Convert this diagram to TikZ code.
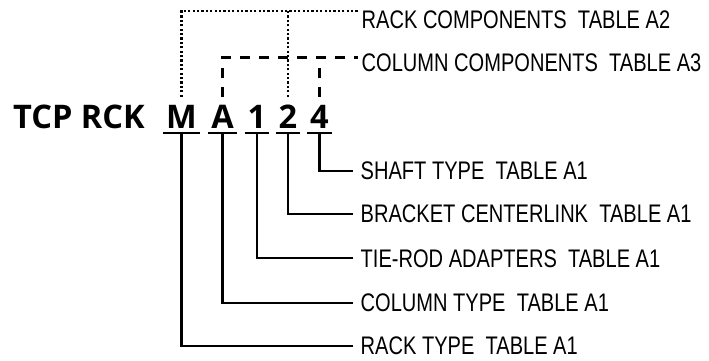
\documentclass[tikz,border=0pt]{standalone}
\usepackage{fontspec}
\newfontfamily\titlefont{Open Sans}
\newfontfamily\labfont{Liberation Sans}[FakeStretch=0.79]
\begin{document}
\begin{tikzpicture}[x=1pt,y=-1pt,
  titletext/.style={font=\titlefont\bfseries\fontsize{32.5}{36}\selectfont, inner sep=0pt},
  letter/.style={titletext, inner xsep=3pt, inner ysep=0pt, text height=31pt, text depth=5pt, anchor=base},
  labfontsize/.style={font=\labfont\fontsize{25.4}{30}\selectfont},
  lab/.style={labfontsize, inner xsep=7.5pt, inner ysep=0pt, anchor=west},
  toplab/.style={labfontsize, inner xsep=3.5pt, inner ysep=0pt, anchor=north west},
  solidline/.style={line width=2.2pt},
  dotline/.style={line width=2.5pt, dash pattern=on 2.3pt off 2.1pt},
  dashline/.style={line width=2.2pt, dash pattern=on 10pt off 9pt}]
\useasboundingbox (0,0) rectangle (709,360);

% title
\node[titletext, anchor=base west] (tcp) at (13,128) {TCP RCK};
\node[letter] (m) at (181.5,128) {M};
\node[letter] (a) at (222.5,128) {A};
\node[letter] (one) at (257,128) {1};
\node[letter] (two) at (288,128) {2};
\node[letter] (four) at (319.5,128) {4};

% underlines
\foreach \n in {m,a,one,two,four}
  \draw[solidline] (\n.south west) -- (\n.south east);

% lower labels
\node[lab] (shaft) at (353,170.7) {SHAFT TYPE\ \ TABLE A1};
\node[lab] (bracket) at (353,214) {BRACKET CENTERLINK\ \ TABLE A1};
\node[lab] (tierod) at (353,258.3) {TIE-ROD ADAPTERS\ \ TABLE A1};
\node[lab] (coltype) at (353,302.7) {COLUMN TYPE\ \ TABLE A1};
\node[lab] (racktype) at (353,346) {RACK TYPE\ \ TABLE A1};

\draw[solidline] (four.south) |- (shaft.west);
\draw[solidline] (two.south) |- (bracket.west);
\draw[solidline] (one.south) |- (tierod.west);
\draw[solidline] (a.south) |- (coltype.west);
\draw[solidline] (m.south) |- (racktype.west);

% upper labels
\node[toplab] (rackcomp) at (358,11) {RACK COMPONENTS\ \ TABLE A2};
\node[toplab] (colcomp) at (358,54) {COLUMN COMPONENTS\ \ TABLE A3};
\coordinate (rcend) at ([yshift=0pt]rackcomp.north west);
\coordinate (ccend) at ([yshift=-3.5pt]colcomp.north west);

\draw[dotline] (m.north) |- (rcend);
\draw[dotline] (two.north) -- (two.north |- rcend);
\draw[dashline] (a.north) |- (ccend);
\draw[dashline] (four.north) -- (four.north |- ccend);
\end{tikzpicture}
\end{document}
